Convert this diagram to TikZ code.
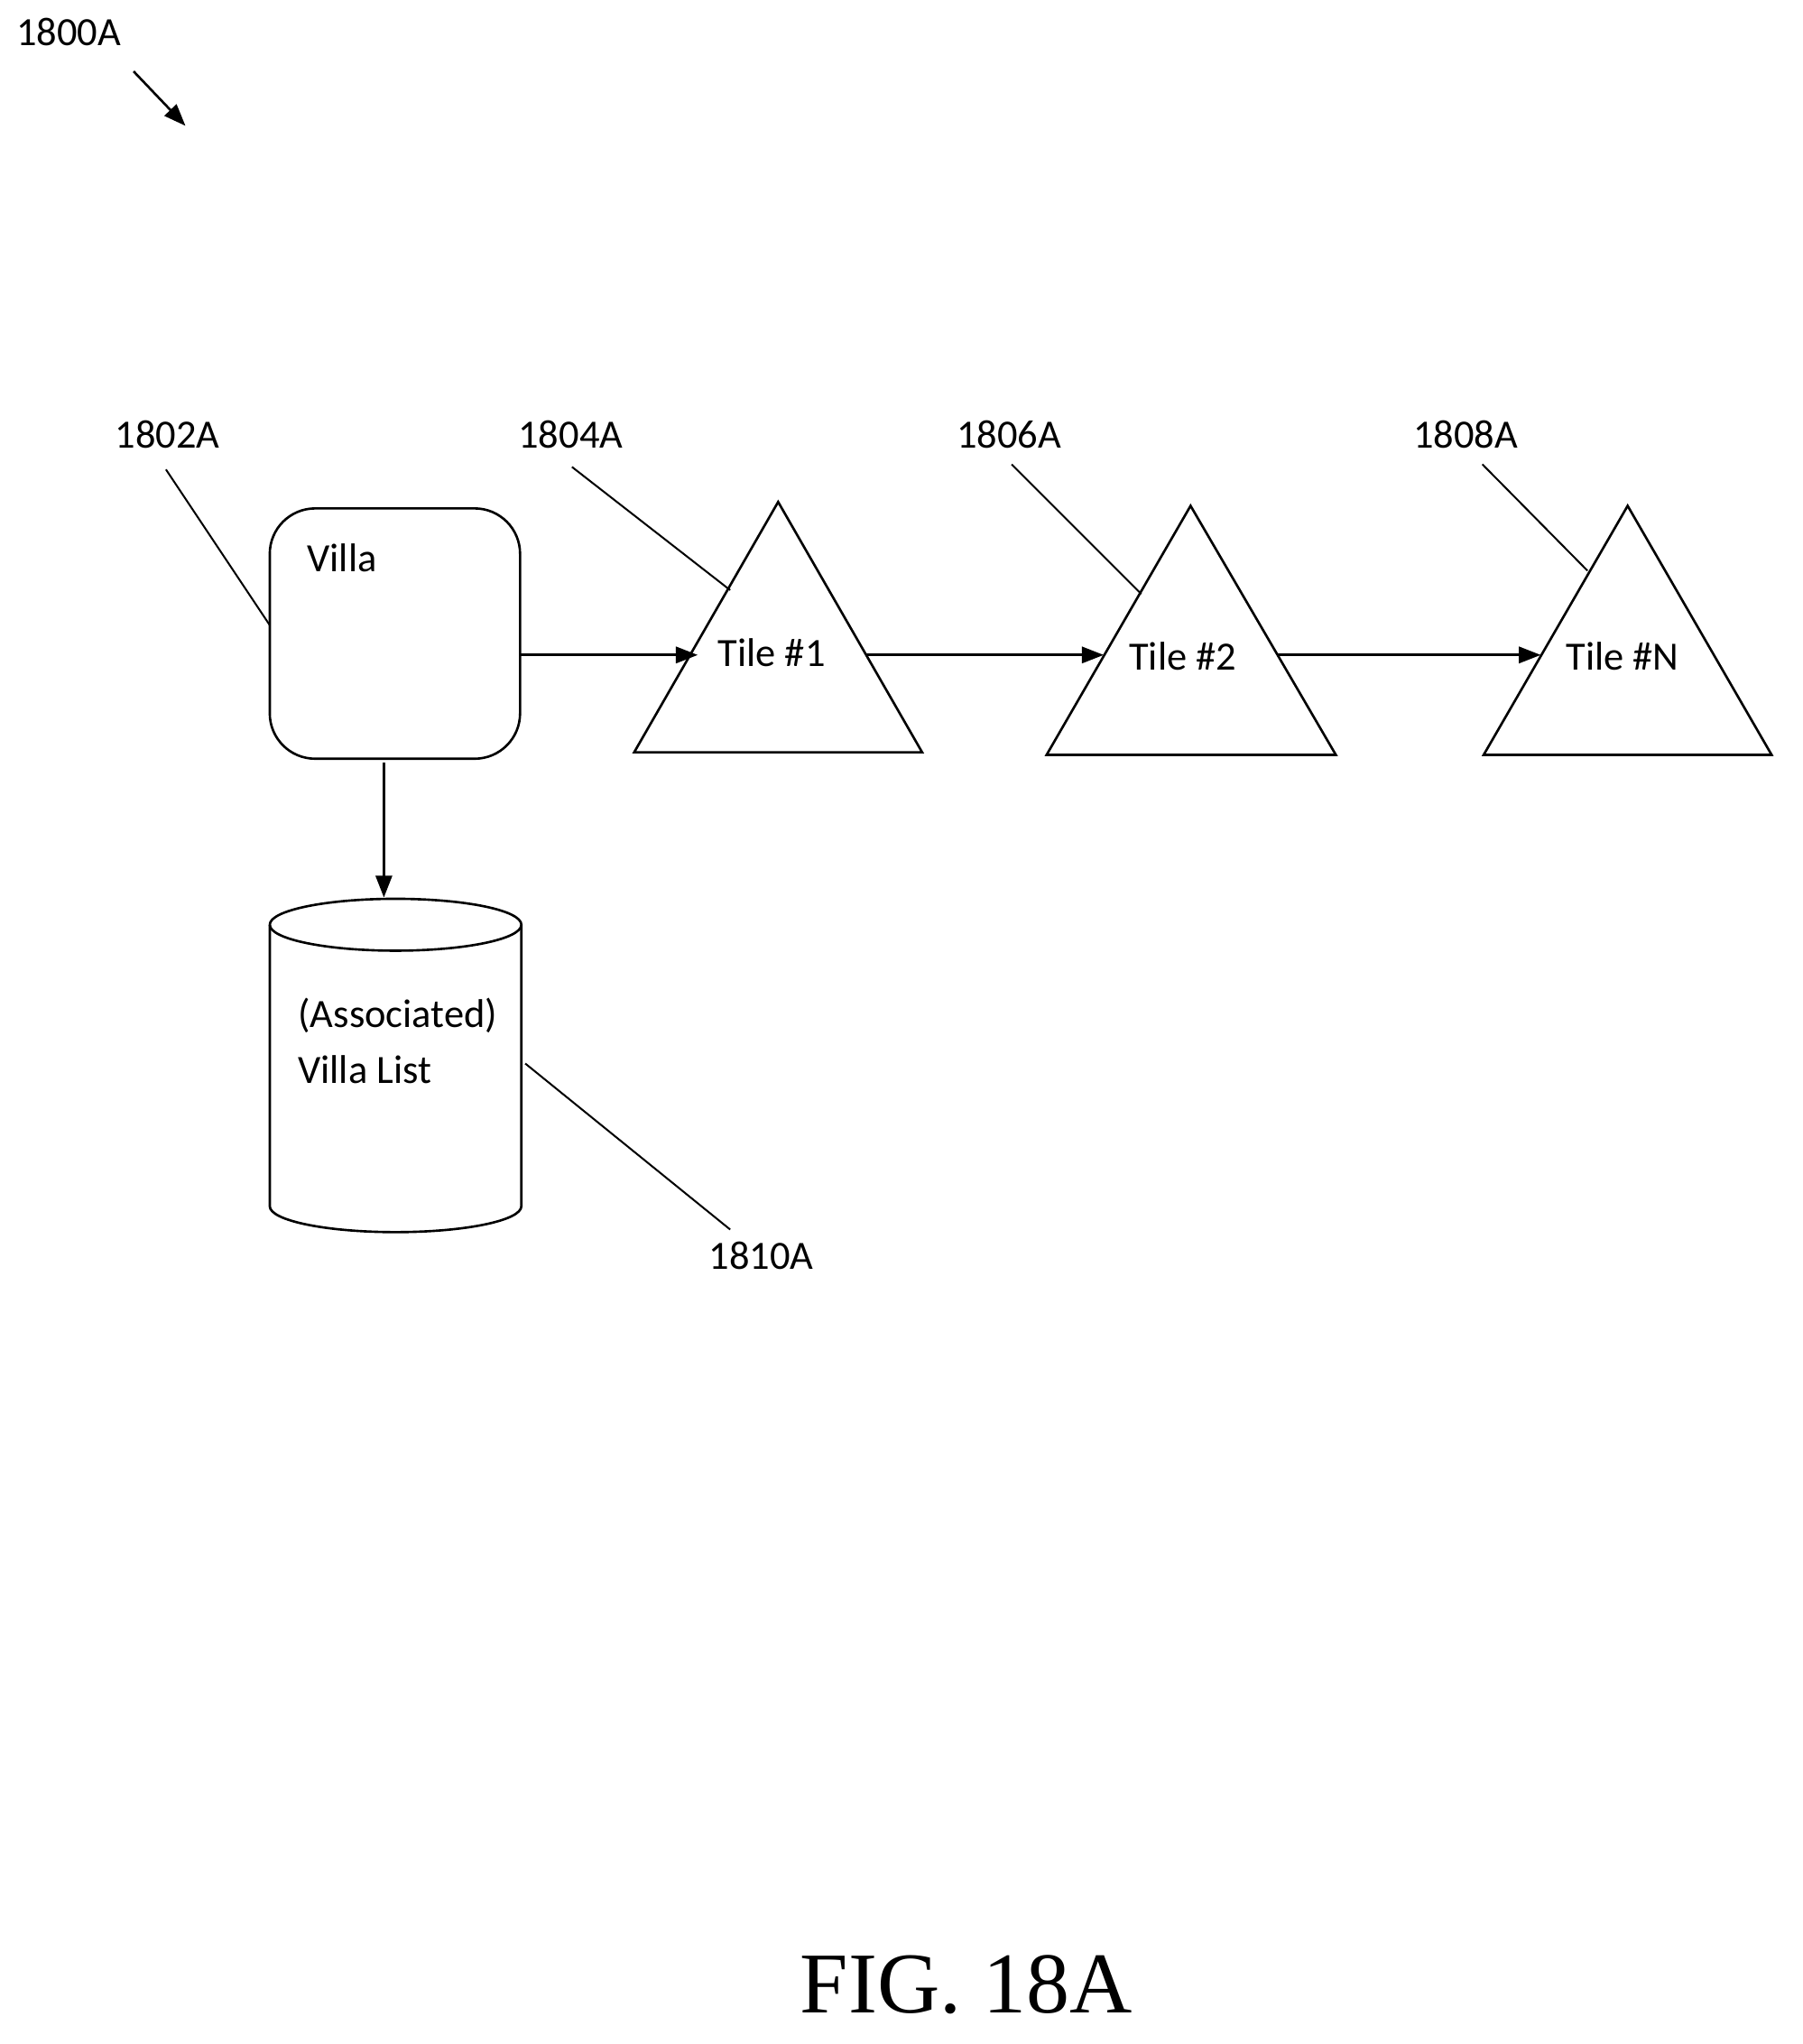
\documentclass[tikz,border=0pt]{standalone}
\usepackage{fontspec}
\setmainfont{Carlito}
\newfontfamily\figfont{Liberation Serif}
\usetikzlibrary{arrows.meta,shapes.geometric}
\begin{document}
\begin{tikzpicture}[x=0.05cm,y=-0.05cm,line width=2.6pt,
  lbl/.style={font=\fontsize{44}{50}\selectfont,inner sep=0},
  arr/.style={-{Triangle[length=24pt,width=18pt]}},
  tri/.style={draw,isosceles triangle,isosceles triangle apex angle=60,shape border rotate=90,minimum height=193*0.05cm,inner sep=0}]
\useasboundingbox (0,0) rectangle (1390,1576);
\node[lbl] (l1800) at (53,25) {1800A};
\coordinate (a0) at (103,55); \coordinate (a1) at (143,97);
\draw[arr] (a0) -- (a1);
\draw[rounded corners=35*0.05cm] (208,392) rectangle (401,585);
\coordinate (box) at (304.5,488.5);
\node[lbl,anchor=west] (villa) at (236,430) {Villa};
\node[lbl] (l1802) at (129,335) {1802A};
\coordinate (p1) at (128,362); \coordinate (p2) at (208,482);
\draw[line width=2pt] (p1) -- (p2);
% triangles
\draw (600,387) -- (711,580) -- (489,580) -- cycle;
\draw (918,390) -- (1030,582) -- (807,582) -- cycle;
\draw (1255,390) -- (1366,582) -- (1144,582) -- cycle;
\node[lbl] (t1) at (595,503) {Tile \#1};
\node[lbl] (t2) at (912,506) {Tile \#2};
\node[lbl] (tn) at (1251,506) {Tile \#N};
\coordinate (b1) at (401,505); \coordinate (e1) at (538,505);
\coordinate (b2) at (668,505); \coordinate (e2) at (851,505);
\coordinate (b3) at (985,505); \coordinate (e3) at (1188,505);
\draw[arr] (b1) -- (e1);
\draw[arr] (b2) -- (e2);
\draw[arr] (b3) -- (e3);
\node[lbl] (l1804) at (440,335) {1804A};
\node[lbl] (l1806) at (778,335) {1806A};
\node[lbl] (l1808) at (1130,335) {1808A};
\coordinate (q1) at (441,360); \coordinate (q2) at (563,455);
\coordinate (r1) at (780,358); \coordinate (r2) at (880,458);
\coordinate (s1) at (1143,358); \coordinate (s2) at (1224,440);
\draw[line width=2pt] (q1) -- (q2);
\draw[line width=2pt] (r1) -- (r2);
\draw[line width=2pt] (s1) -- (s2);
% down arrow
\coordinate (d0) at (296,588); \coordinate (d1) at (296,692);
\draw[arr] (d0) -- (d1);
% cylinder
\draw (208,713) arc[start angle=180,end angle=360,x radius=97*0.05cm,y radius=20*0.05cm]
      arc[start angle=0,end angle=180,x radius=97*0.05cm,y radius=20*0.05cm];
\draw (208,713) -- (208,930) arc[start angle=180,end angle=360,x radius=97*0.05cm,y radius=20*0.05cm] -- (402,713);
\node[lbl,anchor=west] (assoc) at (229,783) {(Associated)};
\node[lbl,anchor=west] (vlist) at (229,825) {Villa List};
\coordinate (c1) at (405,820); \coordinate (c2) at (563,948);
\draw[line width=2pt] (c1) -- (c2);
\node[lbl] (l1810) at (587,968) {1810A};
\node[font=\figfont\fontsize{95}{100}\selectfont,inner sep=0] (fig) at (745,1530) {FIG. 18A};
\end{tikzpicture}
\end{document}
